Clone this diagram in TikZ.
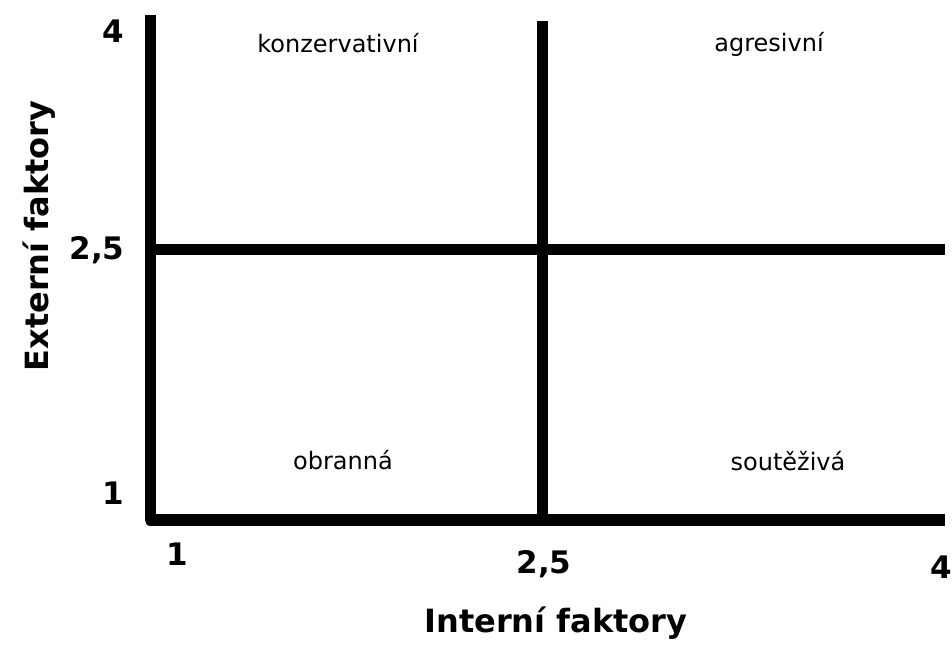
\documentclass[tikz,border=0pt]{standalone}
\usepackage{fontspec}
\setmainfont{DejaVu Sans}
\usepackage{tikz}
\definecolor{axisK}{HTML}{000000}

\begin{document}
\begin{tikzpicture}[x=1pt, y=1pt,
    axisline/.style={draw=axisK, line width=11pt},
    quadlab/.style={anchor=base, font=\fontsize{24}{28}\selectfont},
    ticklab/.style={font=\bfseries\fontsize{31}{36}\selectfont},
    titlelab/.style={anchor=base, font=\bfseries\fontsize{32}{38}\selectfont}]
  \useasboundingbox (0,0) rectangle (952,645);

  % axis frame and the two dividing lines
  \coordinate (ytop) at (150,630);
  \coordinate (orig) at (150,125);
  \coordinate (xend) at (945,125);
  \coordinate (vtop) at (542,624);
  \coordinate (vbot) at (542,125);
  \coordinate (hleft) at (150,395);
  \coordinate (hright) at (945,395);
  \draw[axisline, line join=round] (ytop) -- (orig) -- (xend);
  \draw[axisline] (vtop) -- (vbot);
  \draw[axisline] (hleft) -- (hright);

  % quadrant names
  \node[quadlab] (konz) at (338,592) {konzervativní};
  \node[quadlab] (agr)  at (769,593) {agresivní};
  \node[quadlab] (obr)  at (343,175) {obranná};
  \node[quadlab] (sout) at (788,174) {soutěživá};

  % tick values
  \foreach \y/\lab/\nm in {602/4/ya,385/{2,5}/yb,140/1/yc}{
    \node[ticklab, anchor=base east] (\nm) at (128,\y) {\lab};
  }
  \foreach \x/\y/\lab/\nm in {177/80/1/xa,544/72/{2,5}/xb,941/67/4/xc}{
    \node[ticklab, anchor=base] (\nm) at (\x,\y) {\lab};
  }

  \node[titlelab] (xtitle) at (556,13) {Interní faktory};
  \node[titlelab, rotate=90] (ytitle) at (48,409) {Externí faktory};

\end{tikzpicture}
\end{document}
